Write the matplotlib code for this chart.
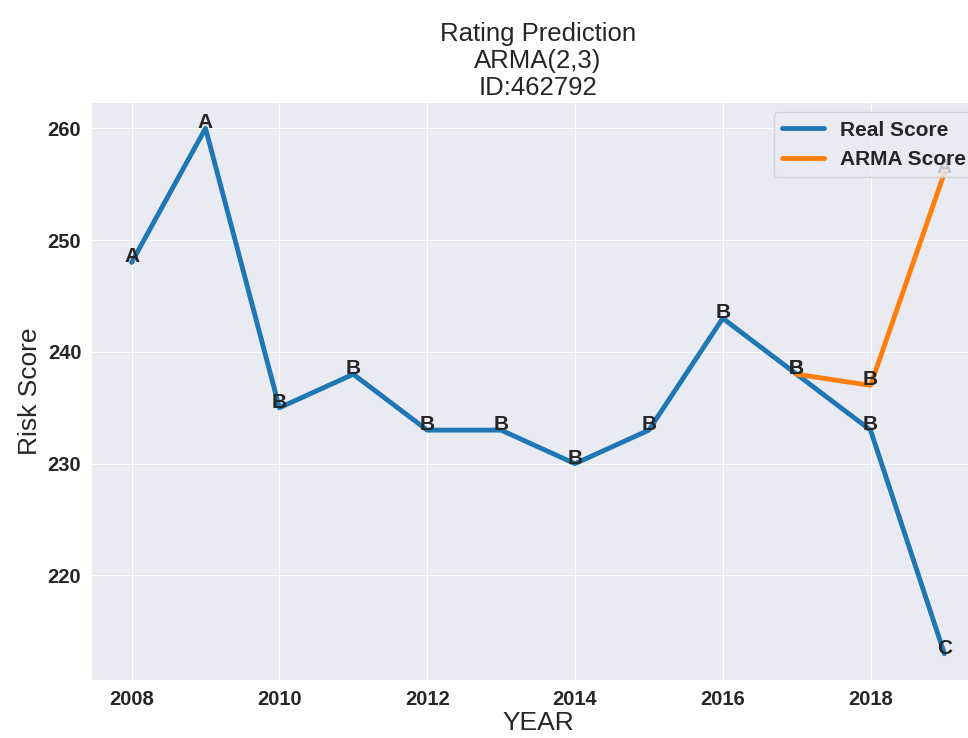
import matplotlib
matplotlib.use('Agg')
import matplotlib.pyplot as plt
import seaborn as sns

sns.set_style('darkgrid')
plt.rcParams['font.family'] = ['Liberation Sans', 'DejaVu Sans']

years = [2008, 2009, 2010, 2011, 2012, 2013, 2014, 2015, 2016, 2017, 2018, 2019]
real_score = [248, 260, 235, 238, 233, 233, 230, 233, 243, 238, 233, 213]
real_grade = ['A', 'A', 'B', 'B', 'B', 'B', 'B', 'B', 'B', 'B', 'B', 'C']

arma_years = [2017, 2018, 2019]
arma_score = [238, 237, 256]
arma_grade = ['B', 'B', 'A']

fig = plt.figure(figsize=(9.68, 7.38), dpi=100)
ax = fig.add_axes([0.094, 0.0786, 0.9236, 0.7832])

ax.plot(years, real_score, color='#1f77b4', linewidth=3.5, label='Real Score')
ax.plot(arma_years, arma_score, color='#ff7f0e', linewidth=3.5, label='ARMA Score')

for x, y, g in zip(years, real_score, real_grade):
    ax.text(x, y, g, ha='center', va='baseline', fontsize=15, fontweight='bold', color='#262626')
for x, y, g in zip(arma_years, arma_score, arma_grade):
    ax.text(x, y, g, ha='center', va='baseline', fontsize=15, fontweight='bold', color='#262626')

ax.set_title('Rating Prediction\nARMA(2,3)\nID:462792', fontsize=18.5, color='#262626',
             linespacing=1.15, pad=5)
ax.set_xlabel('YEAR', fontsize=19, labelpad=2)
ax.set_ylabel('Risk Score', fontsize=19)
ax.set_xticks([2008, 2010, 2012, 2014, 2016, 2018])
for lbl in ax.get_xticklabels() + ax.get_yticklabels():
    lbl.set_fontweight('bold')
    lbl.set_fontsize(14.5)

# legend sits over the last ARMA label, as in the original
leg = ax.legend(loc='upper right', prop={'weight': 'bold', 'size': 15})

fig.savefig('out.png', dpi=100)
